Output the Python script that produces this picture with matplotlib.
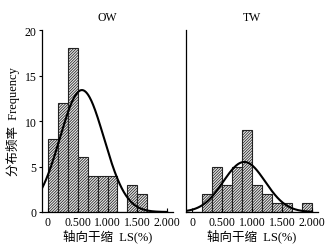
import numpy as np
import matplotlib
matplotlib.use("Agg")
import matplotlib.pyplot as plt

plt.rcParams['font.family'] = ['Liberation Serif', 'Noto Sans CJK SC']
plt.rcParams['hatch.linewidth'] = 0.55

# Data
bin_width = 1 / 6
ow_counts = [8, 12, 18, 6, 4, 4, 4, 0, 3, 2]
tw_counts = [0, 2, 5, 3, 5, 9, 3, 2, 1, 1, 0, 1]
ow_fit = dict(mean=0.57, sd=0.37, peak=13.4)
tw_fit = dict(mean=0.87, sd=0.35, peak=5.5)
titles = ["OW", "TW"]
xticks = [0, 0.5, 1.0, 1.5, 2.0]
xticklabels = ["0", "0.500", "1.000", "1.500", "2.000"]
yticks = [0, 5, 10, 15, 20]
xlabel = "轴向干缩  LS(%)"
ylabel = "分布频率  Frequency"

fig = plt.figure(figsize=(3.36, 2.51), dpi=100)
ax1 = fig.add_axes([0.125, 0.1514, 0.390, 0.725])
ax2 = fig.add_axes([0.5536, 0.1514, 0.393, 0.725])

for ax, counts, fit, title in [(ax1, ow_counts, ow_fit, titles[0]),
                               (ax2, tw_counts, tw_fit, titles[1])]:
    left = np.arange(len(counts)) * bin_width
    ax.bar(left, counts, width=bin_width, align='edge', facecolor='#e8e8e8',
           edgecolor='#222222', linewidth=0.8, hatch='////////////')
    xs = np.linspace(-0.1, 2.0, 300)
    ys = fit['peak'] * np.exp(-0.5 * ((xs - fit['mean']) / fit['sd']) ** 2)
    ax.plot(xs, ys, color='black', linewidth=1.5)
    ax.set_xlim(-0.1, 2.1)
    ax.set_ylim(0, 20)
    ax.set_xticks(xticks)
    ax.set_xticklabels(xticklabels, fontsize=8.5)
    ax.tick_params(axis='x', direction='in', length=3, width=0.8, pad=3)
    ax.spines['top'].set_visible(False)
    ax.spines['right'].set_visible(False)
    ax.spines['left'].set_linewidth(0.9)
    ax.spines['bottom'].set_linewidth(0.9)
    ax.set_title(title, fontsize=8.5, pad=7)
    ax.set_xlabel(xlabel, fontsize=9, labelpad=0)

ax1.set_yticks(yticks)
ax1.set_yticklabels([str(v) for v in yticks], fontsize=8.5)
ax1.tick_params(axis='y', direction='out', length=2.5, width=0.8, pad=1.5)
ax1.set_ylabel(ylabel, fontsize=9, labelpad=3)
ax2.set_yticks([])

fig.savefig("out.png", dpi=100)
